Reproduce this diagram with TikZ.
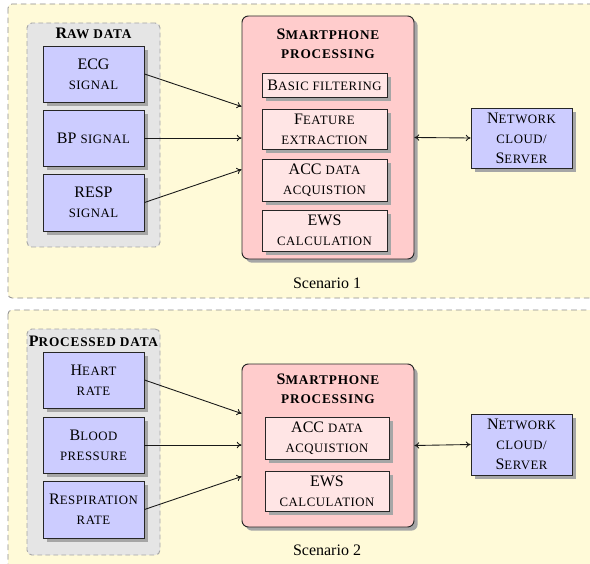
\documentclass[tikz,border=0pt]{standalone}
\usepackage{fontspec}
\setmainfont{Liberation Serif}
\newfontfamily\scfont[LetterSpace=4]{Liberation Serif}
\newfontfamily\scbfont[LetterSpace=6]{Liberation Serif}
\usetikzlibrary{fit,calc,shadows,arrows.meta}
\newcommand\fsc[1]{{\scfont\fontsize{8}{12.5}\selectfont #1}}
\newcommand\bsc[1]{{\scbfont\bfseries\fontsize{8.3}{12.5}\selectfont #1}}
\definecolor{bgyellow}{HTML}{FFFAD8}
\definecolor{boxblue}{HTML}{CCCCFF}
\definecolor{boxred}{HTML}{FFCCCC}
\definecolor{boxpink}{HTML}{FFE5E5}
\definecolor{grpgray}{HTML}{E5E5E5}
\tikzset{
  scen/.style={draw=black!45, dash pattern=on 3.5pt off 2.5pt, fill=bgyellow, rounded corners=2.5pt, line width=0.5pt},
  grp/.style={draw=black!35, dash pattern=on 3pt off 2pt, fill=grpgray, rounded corners=3pt, line width=0.6pt, inner sep=0pt},
  shad/.style={drop shadow={shadow xshift=2.3pt, shadow yshift=-2.3pt, fill=black!35, opacity=1}},
  bluebox/.style={draw=black!85, fill=boxblue, line width=0.6pt, inner sep=0pt, shad},
  phone/.style={draw=black!85, fill=boxred, line width=0.6pt, inner sep=0pt, rounded corners=4pt, shad},
  inner/.style={draw=black!85, fill=boxpink, line width=0.6pt, inner sep=0pt, shad},
  txt/.style={align=center, inner sep=0pt, anchor=center},
  ttl/.style={align=center, inner sep=0pt, font=\bfseries},
  lbl/.style={inner sep=0pt},
  conn/.style={-{To[length=3pt,width=4pt]}, line width=0.55pt, black!90},
  dconn/.style={{To[length=3pt,width=4pt]}-{To[length=3pt,width=4pt]}, line width=0.55pt, black!90}
}
\begin{document}
\begin{tikzpicture}[x=0.625pt, y=-0.625pt, font=\fontsize{10}{12.5}\selectfont]
\useasboundingbox (0,0) rectangle (590,564);
\clip (0,0) rectangle (590,564);
\fill[white] (0,0) rectangle (590,564);
% Scenario frames
\draw[scen] (8,4) rectangle (640,298);
\draw[scen] (8,310) rectangle (640,620);

% ---------- Scenario 1 ----------
\node[grp, fit={(27,23)(160,247)}] (grp1) {};
\node[ttl] (t1) at (93.5,33) {R\bsc{AW DATA}};
\node[bluebox, fit={(43,46)(144,102)}] (ecg) {};
\node[txt] (ecgt) at (ecg.center) {ECG\\\fsc{SIGNAL}};
\node[bluebox, fit={(43,110)(144,166)}] (bp) {};
\node[txt] (bpt) at (bp.center) {BP \fsc{SIGNAL}};
\node[bluebox, fit={(43,174)(144,231)}] (resp) {};
\node[txt] (respt) at (resp.center) {RESP\\\fsc{SIGNAL}};

\node[phone, fit={(242,16)(414,259)}] (sp1) {};
\node[ttl] (sp1t) at (328,44) {S\bsc{MARTPHONE}\\\bsc{PROCESSING}};
\node[inner, fit={(262,73)(387,97)}] (bf) {};
\node[txt] (bft) at (bf.center) {B\fsc{ASIC FILTERING}};
\node[inner, fit={(262,109)(387,149)}] (fe) {};
\node[txt] (fet) at (fe.center) {F\fsc{EATURE}\\\fsc{EXTRACTION}};
\node[inner, fit={(262,159)(387,201)}] (acc1) {};
\node[txt] (acc1t) at (acc1.center) {ACC \fsc{DATA}\\\fsc{ACQUISTION}};
\node[inner, fit={(262,210)(387,251)}] (ews1) {};
\node[txt] (ews1t) at (ews1.center) {EWS\\\fsc{CALCULATION}};

\node[bluebox, fit={(471,108)(572,168)}] (net1) {};
\node[txt] (net1t) at (net1.center) {N\fsc{ETWORK}\\\fsc{CLOUD/}\\S\fsc{ERVER}};
\node[lbl] (sc1) at (327,283) {Scenario 1};

\draw[conn] (ecg.east) -- ($(sp1.west)+(0,-31)$);
\draw[conn] (bp.east) -- (sp1.west |- bp.east);
\draw[conn] (resp.east) -- ($(sp1.west)+(0,32)$);
\draw[dconn] (sp1.east) -- (net1.west);

% ---------- Scenario 2 ----------
\node[grp, fit={(27,329)(160,555)}] (grp2) {};
\node[ttl] (t2) at (93.5,341) {P\bsc{ROCESSED DATA}};
\node[bluebox, fit={(43,352)(144,408)}] (hr) {};
\node[txt] (hrt) at (hr.center) {H\fsc{EART}\\\fsc{RATE}};
\node[bluebox, fit={(43,417)(144,473)}] (blood) {};
\node[txt] (bloodt) at (blood.center) {B\fsc{LOOD}\\\fsc{PRESSURE}};
\node[bluebox, fit={(43,481)(144,538)}] (rr) {};
\node[txt] (rrt) at (rr.center) {R\fsc{ESPIRATION}\\\fsc{RATE}};

\node[phone, fit={(242,364)(414,527)}] (sp2) {};
\node[ttl] (sp2t) at (328,389) {S\bsc{MARTPHONE}\\\bsc{PROCESSING}};
\node[inner, fit={(265,417)(389,459)}] (acc2) {};
\node[txt] (acc2t) at (acc2.center) {ACC \fsc{DATA}\\\fsc{ACQUISTION}};
\node[inner, fit={(265,471)(389,511)}] (ews2) {};
\node[txt] (ews2t) at (ews2.center) {EWS\\\fsc{CALCULATION}};

\node[bluebox, fit={(471,414)(572,475)}] (net2) {};
\node[txt] (net2t) at (net2.center) {N\fsc{ETWORK}\\\fsc{CLOUD/}\\S\fsc{ERVER}};
\node[lbl] (sc2) at (327,550) {Scenario 2};

\draw[conn] (hr.east) -- ($(sp2.west)+(0,-32)$);
\draw[conn] (blood.east) -- (sp2.west |- blood.east);
\draw[conn] (rr.east) -- ($(sp2.west)+(0,31)$);
\draw[dconn] (sp2.east) -- (net2.west);
\end{tikzpicture}
\end{document}
